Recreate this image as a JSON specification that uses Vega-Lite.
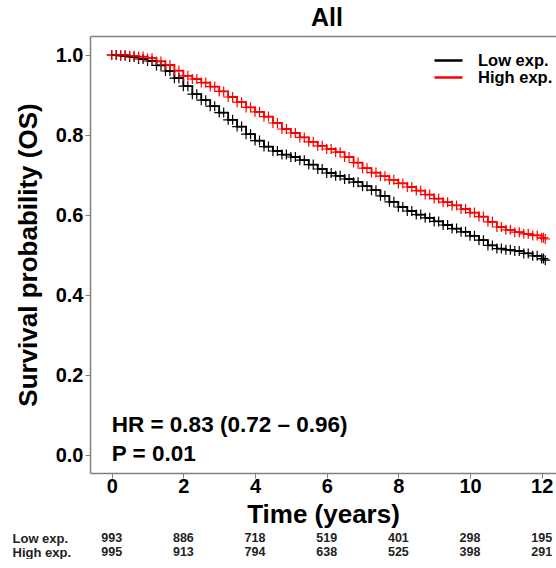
{
  "$schema": "https://vega.github.io/schema/vega-lite/v6.json",
  "background": "white",
  "padding": {"left": 12, "top": 6, "right": 0, "bottom": 0},
  "spacing": 4,
  "config": {
    "font": "Liberation Sans",
    "view": {"stroke": null},
    "axis": {
      "grid": false,
      "domainColor": "#808080",
      "domainWidth": 1.5,
      "tickColor": "#808080",
      "tickWidth": 1,
      "tickSize": 5,
      "labelColor": "#000000",
      "labelFontSize": 20,
      "labelFontWeight": "bold",
      "titleColor": "#000000",
      "titleFontSize": 26,
      "titleFontWeight": "bold"
    }
  },
  "datasets": {
    "km": [
      {"group": "Low exp.", "time": 0, "surv": 1.0},
      {"group": "Low exp.", "time": 0.25, "surv": 0.998},
      {"group": "Low exp.", "time": 0.5, "surv": 0.995},
      {"group": "Low exp.", "time": 0.75, "surv": 0.99},
      {"group": "Low exp.", "time": 1.0, "surv": 0.985},
      {"group": "Low exp.", "time": 1.25, "surv": 0.974},
      {"group": "Low exp.", "time": 1.5, "surv": 0.96},
      {"group": "Low exp.", "time": 1.75, "surv": 0.942},
      {"group": "Low exp.", "time": 2.0, "surv": 0.922},
      {"group": "Low exp.", "time": 2.25, "surv": 0.902},
      {"group": "Low exp.", "time": 2.5, "surv": 0.887},
      {"group": "Low exp.", "time": 2.75, "surv": 0.872},
      {"group": "Low exp.", "time": 3.0, "surv": 0.856},
      {"group": "Low exp.", "time": 3.25, "surv": 0.838},
      {"group": "Low exp.", "time": 3.5, "surv": 0.821},
      {"group": "Low exp.", "time": 3.75, "surv": 0.802},
      {"group": "Low exp.", "time": 4.0, "surv": 0.786},
      {"group": "Low exp.", "time": 4.25, "surv": 0.771},
      {"group": "Low exp.", "time": 4.5, "surv": 0.76},
      {"group": "Low exp.", "time": 4.75, "surv": 0.751},
      {"group": "Low exp.", "time": 5.0, "surv": 0.745},
      {"group": "Low exp.", "time": 5.25, "surv": 0.737},
      {"group": "Low exp.", "time": 5.5, "surv": 0.726},
      {"group": "Low exp.", "time": 5.75, "surv": 0.715},
      {"group": "Low exp.", "time": 6.0, "surv": 0.705},
      {"group": "Low exp.", "time": 6.25, "surv": 0.698},
      {"group": "Low exp.", "time": 6.5, "surv": 0.69},
      {"group": "Low exp.", "time": 6.75, "surv": 0.682},
      {"group": "Low exp.", "time": 7.0, "surv": 0.672},
      {"group": "Low exp.", "time": 7.25, "surv": 0.662},
      {"group": "Low exp.", "time": 7.5, "surv": 0.648},
      {"group": "Low exp.", "time": 7.75, "surv": 0.633},
      {"group": "Low exp.", "time": 8.0, "surv": 0.62},
      {"group": "Low exp.", "time": 8.25, "surv": 0.61},
      {"group": "Low exp.", "time": 8.5, "surv": 0.601},
      {"group": "Low exp.", "time": 8.75, "surv": 0.593},
      {"group": "Low exp.", "time": 9.0, "surv": 0.584},
      {"group": "Low exp.", "time": 9.25, "surv": 0.575},
      {"group": "Low exp.", "time": 9.5, "surv": 0.566},
      {"group": "Low exp.", "time": 9.75, "surv": 0.558},
      {"group": "Low exp.", "time": 10.0, "surv": 0.548},
      {"group": "Low exp.", "time": 10.25, "surv": 0.537},
      {"group": "Low exp.", "time": 10.5, "surv": 0.524},
      {"group": "Low exp.", "time": 10.75, "surv": 0.516},
      {"group": "Low exp.", "time": 11.0, "surv": 0.513},
      {"group": "Low exp.", "time": 11.25, "surv": 0.51},
      {"group": "Low exp.", "time": 11.5, "surv": 0.504},
      {"group": "Low exp.", "time": 11.75, "surv": 0.498},
      {"group": "Low exp.", "time": 12.0, "surv": 0.491},
      {"group": "Low exp.", "time": 12.1, "surv": 0.487},
      {"group": "High exp.", "time": 0, "surv": 1.0},
      {"group": "High exp.", "time": 0.25, "surv": 1.0},
      {"group": "High exp.", "time": 0.5, "surv": 0.998},
      {"group": "High exp.", "time": 0.75, "surv": 0.996},
      {"group": "High exp.", "time": 1.0, "surv": 0.992},
      {"group": "High exp.", "time": 1.25, "surv": 0.984},
      {"group": "High exp.", "time": 1.5, "surv": 0.975},
      {"group": "High exp.", "time": 1.75, "surv": 0.961},
      {"group": "High exp.", "time": 2.0, "surv": 0.948},
      {"group": "High exp.", "time": 2.25, "surv": 0.94},
      {"group": "High exp.", "time": 2.5, "surv": 0.931},
      {"group": "High exp.", "time": 2.75, "surv": 0.921},
      {"group": "High exp.", "time": 3.0, "surv": 0.909},
      {"group": "High exp.", "time": 3.25, "surv": 0.895},
      {"group": "High exp.", "time": 3.5, "surv": 0.882},
      {"group": "High exp.", "time": 3.75, "surv": 0.869},
      {"group": "High exp.", "time": 4.0, "surv": 0.858},
      {"group": "High exp.", "time": 4.25, "surv": 0.846},
      {"group": "High exp.", "time": 4.5, "surv": 0.83},
      {"group": "High exp.", "time": 4.75, "surv": 0.815},
      {"group": "High exp.", "time": 5.0, "surv": 0.805},
      {"group": "High exp.", "time": 5.25, "surv": 0.794},
      {"group": "High exp.", "time": 5.5, "surv": 0.783},
      {"group": "High exp.", "time": 5.75, "surv": 0.773},
      {"group": "High exp.", "time": 6.0, "surv": 0.765},
      {"group": "High exp.", "time": 6.25, "surv": 0.757},
      {"group": "High exp.", "time": 6.5, "surv": 0.745},
      {"group": "High exp.", "time": 6.75, "surv": 0.731},
      {"group": "High exp.", "time": 7.0, "surv": 0.717},
      {"group": "High exp.", "time": 7.25, "surv": 0.706},
      {"group": "High exp.", "time": 7.5, "surv": 0.697},
      {"group": "High exp.", "time": 7.75, "surv": 0.688},
      {"group": "High exp.", "time": 8.0, "surv": 0.679},
      {"group": "High exp.", "time": 8.25, "surv": 0.67},
      {"group": "High exp.", "time": 8.5, "surv": 0.661},
      {"group": "High exp.", "time": 8.75, "surv": 0.651},
      {"group": "High exp.", "time": 9.0, "surv": 0.641},
      {"group": "High exp.", "time": 9.25, "surv": 0.632},
      {"group": "High exp.", "time": 9.5, "surv": 0.624},
      {"group": "High exp.", "time": 9.75, "surv": 0.615},
      {"group": "High exp.", "time": 10.0, "surv": 0.606},
      {"group": "High exp.", "time": 10.25, "surv": 0.596},
      {"group": "High exp.", "time": 10.5, "surv": 0.583},
      {"group": "High exp.", "time": 10.75, "surv": 0.57},
      {"group": "High exp.", "time": 11.0, "surv": 0.563},
      {"group": "High exp.", "time": 11.25, "surv": 0.557},
      {"group": "High exp.", "time": 11.5, "surv": 0.553},
      {"group": "High exp.", "time": 11.75, "surv": 0.549},
      {"group": "High exp.", "time": 12.0, "surv": 0.543},
      {"group": "High exp.", "time": 12.1, "surv": 0.54}
    ],
    "censor": [
      {"group": "Low exp.", "time": 0.125, "surv": 1.0},
      {"group": "Low exp.", "time": 0.375, "surv": 0.998},
      {"group": "Low exp.", "time": 0.625, "surv": 0.995},
      {"group": "Low exp.", "time": 0.875, "surv": 0.99},
      {"group": "Low exp.", "time": 1.125, "surv": 0.985},
      {"group": "Low exp.", "time": 1.375, "surv": 0.974},
      {"group": "Low exp.", "time": 1.625, "surv": 0.96},
      {"group": "Low exp.", "time": 1.875, "surv": 0.942},
      {"group": "Low exp.", "time": 2.125, "surv": 0.922},
      {"group": "Low exp.", "time": 2.375, "surv": 0.902},
      {"group": "Low exp.", "time": 2.625, "surv": 0.887},
      {"group": "Low exp.", "time": 2.875, "surv": 0.872},
      {"group": "Low exp.", "time": 3.125, "surv": 0.856},
      {"group": "Low exp.", "time": 3.375, "surv": 0.838},
      {"group": "Low exp.", "time": 3.625, "surv": 0.821},
      {"group": "Low exp.", "time": 3.875, "surv": 0.802},
      {"group": "Low exp.", "time": 4.125, "surv": 0.786},
      {"group": "Low exp.", "time": 4.375, "surv": 0.771},
      {"group": "Low exp.", "time": 4.625, "surv": 0.76},
      {"group": "Low exp.", "time": 4.875, "surv": 0.751},
      {"group": "Low exp.", "time": 5.125, "surv": 0.745},
      {"group": "Low exp.", "time": 5.375, "surv": 0.737},
      {"group": "Low exp.", "time": 5.625, "surv": 0.726},
      {"group": "Low exp.", "time": 5.875, "surv": 0.715},
      {"group": "Low exp.", "time": 6.125, "surv": 0.705},
      {"group": "Low exp.", "time": 6.375, "surv": 0.698},
      {"group": "Low exp.", "time": 6.625, "surv": 0.69},
      {"group": "Low exp.", "time": 6.875, "surv": 0.682},
      {"group": "Low exp.", "time": 7.125, "surv": 0.672},
      {"group": "Low exp.", "time": 7.375, "surv": 0.662},
      {"group": "Low exp.", "time": 7.625, "surv": 0.648},
      {"group": "Low exp.", "time": 7.875, "surv": 0.633},
      {"group": "Low exp.", "time": 8.125, "surv": 0.62},
      {"group": "Low exp.", "time": 8.375, "surv": 0.61},
      {"group": "Low exp.", "time": 8.625, "surv": 0.601},
      {"group": "Low exp.", "time": 8.875, "surv": 0.593},
      {"group": "Low exp.", "time": 9.125, "surv": 0.584},
      {"group": "Low exp.", "time": 9.375, "surv": 0.575},
      {"group": "Low exp.", "time": 9.625, "surv": 0.566},
      {"group": "Low exp.", "time": 9.875, "surv": 0.558},
      {"group": "Low exp.", "time": 10.125, "surv": 0.548},
      {"group": "Low exp.", "time": 10.375, "surv": 0.537},
      {"group": "Low exp.", "time": 10.625, "surv": 0.524},
      {"group": "Low exp.", "time": 10.875, "surv": 0.516},
      {"group": "Low exp.", "time": 11.125, "surv": 0.513},
      {"group": "Low exp.", "time": 11.375, "surv": 0.51},
      {"group": "Low exp.", "time": 11.625, "surv": 0.504},
      {"group": "Low exp.", "time": 11.875, "surv": 0.498},
      {"group": "Low exp.", "time": 12.05, "surv": 0.491},
      {"group": "High exp.", "time": 0.125, "surv": 1.0},
      {"group": "High exp.", "time": 0.375, "surv": 1.0},
      {"group": "High exp.", "time": 0.625, "surv": 0.998},
      {"group": "High exp.", "time": 0.875, "surv": 0.996},
      {"group": "High exp.", "time": 1.125, "surv": 0.992},
      {"group": "High exp.", "time": 1.375, "surv": 0.984},
      {"group": "High exp.", "time": 1.625, "surv": 0.975},
      {"group": "High exp.", "time": 1.875, "surv": 0.961},
      {"group": "High exp.", "time": 2.125, "surv": 0.948},
      {"group": "High exp.", "time": 2.375, "surv": 0.94},
      {"group": "High exp.", "time": 2.625, "surv": 0.931},
      {"group": "High exp.", "time": 2.875, "surv": 0.921},
      {"group": "High exp.", "time": 3.125, "surv": 0.909},
      {"group": "High exp.", "time": 3.375, "surv": 0.895},
      {"group": "High exp.", "time": 3.625, "surv": 0.882},
      {"group": "High exp.", "time": 3.875, "surv": 0.869},
      {"group": "High exp.", "time": 4.125, "surv": 0.858},
      {"group": "High exp.", "time": 4.375, "surv": 0.846},
      {"group": "High exp.", "time": 4.625, "surv": 0.83},
      {"group": "High exp.", "time": 4.875, "surv": 0.815},
      {"group": "High exp.", "time": 5.125, "surv": 0.805},
      {"group": "High exp.", "time": 5.375, "surv": 0.794},
      {"group": "High exp.", "time": 5.625, "surv": 0.783},
      {"group": "High exp.", "time": 5.875, "surv": 0.773},
      {"group": "High exp.", "time": 6.125, "surv": 0.765},
      {"group": "High exp.", "time": 6.375, "surv": 0.757},
      {"group": "High exp.", "time": 6.625, "surv": 0.745},
      {"group": "High exp.", "time": 6.875, "surv": 0.731},
      {"group": "High exp.", "time": 7.125, "surv": 0.717},
      {"group": "High exp.", "time": 7.375, "surv": 0.706},
      {"group": "High exp.", "time": 7.625, "surv": 0.697},
      {"group": "High exp.", "time": 7.875, "surv": 0.688},
      {"group": "High exp.", "time": 8.125, "surv": 0.679},
      {"group": "High exp.", "time": 8.375, "surv": 0.67},
      {"group": "High exp.", "time": 8.625, "surv": 0.661},
      {"group": "High exp.", "time": 8.875, "surv": 0.651},
      {"group": "High exp.", "time": 9.125, "surv": 0.641},
      {"group": "High exp.", "time": 9.375, "surv": 0.632},
      {"group": "High exp.", "time": 9.625, "surv": 0.624},
      {"group": "High exp.", "time": 9.875, "surv": 0.615},
      {"group": "High exp.", "time": 10.125, "surv": 0.606},
      {"group": "High exp.", "time": 10.375, "surv": 0.596},
      {"group": "High exp.", "time": 10.625, "surv": 0.583},
      {"group": "High exp.", "time": 10.875, "surv": 0.57},
      {"group": "High exp.", "time": 11.125, "surv": 0.563},
      {"group": "High exp.", "time": 11.375, "surv": 0.557},
      {"group": "High exp.", "time": 11.625, "surv": 0.553},
      {"group": "High exp.", "time": 11.875, "surv": 0.549},
      {"group": "High exp.", "time": 12.05, "surv": 0.543}
    ],
    "risk": [
      {"group": "Low exp.", "time": 0, "n": 993},
      {"group": "Low exp.", "time": 2, "n": 886},
      {"group": "Low exp.", "time": 4, "n": 718},
      {"group": "Low exp.", "time": 6, "n": 519},
      {"group": "Low exp.", "time": 8, "n": 401},
      {"group": "Low exp.", "time": 10, "n": 298},
      {"group": "Low exp.", "time": 12, "n": 195},
      {"group": "High exp.", "time": 0, "n": 995},
      {"group": "High exp.", "time": 2, "n": 913},
      {"group": "High exp.", "time": 4, "n": 794},
      {"group": "High exp.", "time": 6, "n": 638},
      {"group": "High exp.", "time": 8, "n": 525},
      {"group": "High exp.", "time": 10, "n": 398},
      {"group": "High exp.", "time": 12, "n": 291}
    ]
  },
  "vconcat": [
    {
      "width": 466,
      "height": 437,
      "title": {"text": "All", "fontSize": 25, "fontWeight": "bold", "anchor": "middle", "dx": 4, "offset": 5, "color": "#000000"},
      "resolve": {"axis": {"x": "independent"}},
      "layer": [
        {
          "data": {"name": "km"},
          "mark": {"type": "line", "interpolate": "step-after", "strokeWidth": 1.8},
          "encoding": {
            "x": {"field": "time", "type": "quantitative",
                  "scale": {"domain": [-0.606, 12.4], "nice": false, "zero": false},
                  "axis": {"orient": "bottom", "values": [0, 2, 4, 6, 8, 10, 12], "title": "Time (years)", "labelPadding": -2, "titlePadding": 5}},
            "y": {"field": "surv", "type": "quantitative",
                  "scale": {"domain": [-0.045, 1.0475], "nice": false, "zero": false},
                  "axis": {"values": [0, 0.2, 0.4, 0.6, 0.8, 1.0], "format": ".1f", "title": "Survival probability (OS)", "labelPadding": 2, "titlePadding": 14}},
            "color": {"field": "group", "type": "nominal",
                      "scale": {"domain": ["Low exp.", "High exp."], "range": ["#000000", "#FF0000"]},
                      "legend": {"title": null, "orient": "none", "legendX": 350, "legendY": 16,
                                 "symbolType": "M-2,0H2", "symbolSize": 196, "symbolStrokeWidth": 2.5,
                                 "labelFontSize": 16.5, "labelFontWeight": "bold", "labelColor": "#000000",
                                 "labelOffset": 21, "rowPadding": 0, "padding": 0}}
          }
        },
        {
          "data": {"name": "km"},
          "mark": {"type": "point", "shape": "M-1,0H1M0,-1V1", "filled": false, "size": 100, "strokeWidth": 1.2, "opacity": 1},
          "encoding": {
            "x": {"field": "time", "type": "quantitative", "axis": null},
            "y": {"field": "surv", "type": "quantitative"},
            "color": {"field": "group", "type": "nominal"}
          }
        },
        {
          "data": {"name": "censor"},
          "mark": {"type": "point", "shape": "M-1,0H1M0,-1V1", "filled": false, "size": 100, "strokeWidth": 1.2, "opacity": 1},
          "encoding": {
            "x": {"field": "time", "type": "quantitative",
                  "axis": {"orient": "top", "labels": false, "ticks": false, "title": null, "domain": true}},
            "y": {"field": "surv", "type": "quantitative"},
            "color": {"field": "group", "type": "nominal"}
          }
        },
        {
          "data": {"values": [{}]},
          "mark": {"type": "text", "align": "left", "baseline": "middle", "fontSize": 22.5, "fontWeight": "bold", "color": "#000000"},
          "encoding": {
            "x": {"datum": 0, "type": "quantitative", "axis": null},
            "y": {"datum": 0.075, "type": "quantitative"},
            "text": {"value": "HR = 0.83 (0.72 – 0.96)"}
          }
        },
        {
          "data": {"values": [{}]},
          "mark": {"type": "text", "align": "left", "baseline": "middle", "fontSize": 22.5, "fontWeight": "bold", "color": "#000000"},
          "encoding": {
            "x": {"datum": 0, "type": "quantitative", "axis": null},
            "y": {"datum": 0.0025, "type": "quantitative"},
            "text": {"value": "P = 0.01"}
          }
        }
      ]
    },
    {
      "width": 466,
      "height": 28,
      "data": {"name": "risk"},
      "mark": {"type": "text", "fontSize": 12.5, "fontWeight": "bold", "color": "#222222"},
      "encoding": {
        "x": {"field": "time", "type": "quantitative",
              "scale": {"domain": [-0.606, 12.4], "nice": false, "zero": false}, "axis": null},
        "y": {"field": "group", "type": "nominal",
              "scale": {"domain": ["Low exp.", "High exp."]},
              "axis": {"title": null, "domain": false, "ticks": false, "labelAlign": "left", "labelPadding": 78,
                       "labelFontSize": 13, "labelFontWeight": "bold", "labelColor": "#222222"}},
        "text": {"field": "n", "type": "quantitative"}
      }
    }
  ],
  "resolve": {"scale": {"x": "independent", "y": "independent"}}
}
